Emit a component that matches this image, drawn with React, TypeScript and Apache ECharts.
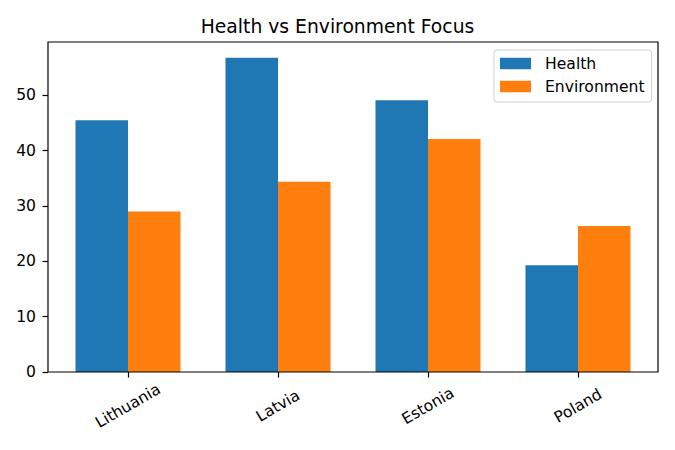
import React, { useEffect, useRef } from "react";
import * as echarts from "echarts";

const categories = ["Lithuania", "Latvia", "Estonia", "Poland"];
const health = [45.5, 56.8, 49.1, 19.3];
const environment = [29.0, 34.4, 42.1, 26.4];
const yTicks = [0, 10, 20, 30, 40, 50];
const yMax = 59.64;
const seriesNames = ["Health", "Environment"];
const colors = ["#1f77b4", "#ff7f0e"];

const FONT = "DejaVu Sans";

export default function App() {
  const ref = useRef<HTMLDivElement>(null);
  useEffect(() => {
    if (!ref.current) return;
    const chart = echarts.init(ref.current, null, { renderer: "svg" });
    chart.setOption({
      animation: false,
      backgroundColor: "#ffffff",
      title: {
        text: "Health vs Environment Focus",
        left: "center",
        top: 15,
        padding: [0, 0, 0, 31],
        textStyle: {
          fontFamily: FONT,
          fontSize: 18.75,
          fontWeight: "normal",
          color: "#000",
          lineHeight: 22,
        },
      },
      legend: {
        data: seriesNames,
        orient: "vertical",
        left: 494,
        top: 50,
        padding: [5, 7, 7, 6],
        itemGap: 6,
        itemWidth: 31,
        itemHeight: 11.5,
        icon: "rect",
        borderColor: "#cccccc",
        borderWidth: 1,
        borderRadius: 3,
        backgroundColor: "rgba(255,255,255,0.8)",
        textStyle: {
          fontFamily: FONT,
          fontSize: 15.6,
          color: "#000",
          lineHeight: 17,
          padding: [0, 0, 0, 9],
        },
      },
      grid: { left: 53, width: 600, top: 42, height: 330, containLabel: false },
      xAxis: {
        type: "category",
        data: categories,
        axisLine: { show: false },
        axisTick: {
          show: true,
          alignWithLabel: true,
          length: 5.5,
          lineStyle: { color: "#000", width: 1.2 },
        },
        axisLabel: {
          rotate: 30,
          align: "center",
          verticalAlign: "middle",
          margin: 34,
          fontFamily: FONT,
          fontSize: 15.6,
          color: "#000",
          interval: 0,
        },
      },
      yAxis: {
        type: "value",
        min: 0,
        max: yMax,
        offset: 5,
        axisLine: { show: false },
        splitLine: { show: false },
        axisTick: {
          show: true,
          length: 5.5,
          customValues: yTicks,
          lineStyle: { color: "#000", width: 1.2 },
        },
        axisLabel: {
          customValues: yTicks,
          margin: 12,
          fontFamily: FONT,
          fontSize: 15.6,
          color: "#000",
        },
      },
      series: [
        {
          name: seriesNames[0],
          type: "bar",
          data: health,
          barWidth: 52.5,
          barGap: "0%",
          itemStyle: { color: colors[0] },
        },
        {
          name: seriesNames[1],
          type: "bar",
          data: environment,
          barWidth: 52.5,
          barGap: "0%",
          itemStyle: { color: colors[1] },
        },
      ],
      graphic: [
        {
          type: "rect",
          shape: { x: 48, y: 42, width: 610, height: 330 },
          style: { fill: "none", stroke: "#000", lineWidth: 1.2 },
          z: 10,
          silent: true,
        },
      ],
    });
    return () => chart.dispose();
  }, []);
  return (
    <div
      ref={ref}
      style={{ position: "fixed", left: 0, top: 0, width: 675, height: 450 }}
    />
  );
}
